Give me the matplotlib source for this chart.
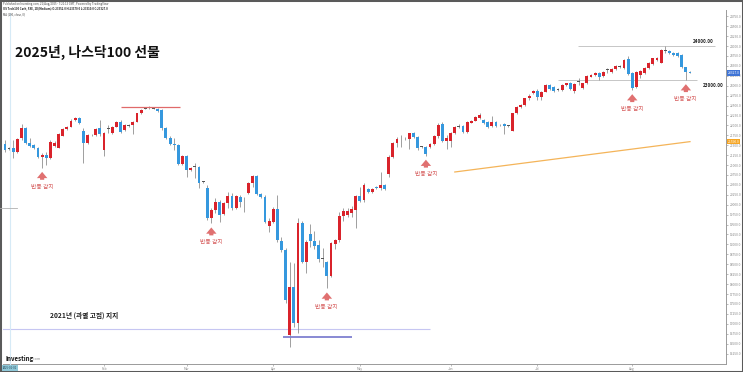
import matplotlib
matplotlib.use('Agg')
import matplotlib.pyplot as plt
from matplotlib.lines import Line2D
from matplotlib.patches import Rectangle
import numpy as np

plt.rcParams['font.family'] = ['Noto Sans CJK KR', 'DejaVu Sans']

# ---------------- data (daily candles, NQ futures 2025) ----------------
opens = [21523, 21430, 21422, 21336, 21674, 21926, 21563, 21505, 21422, 21203,
         21253, 21170, 21480, 21437, 21739, 21901, 21966, 22135, 22178, 21858,
         21548, 21757, 21745, 21926, 21379, 21910, 21800, 21966, 22077, 21883,
         22000, 22009, 22092, 22304, 22420, 22440, 22430, 22412, 22387, 21926,
         21689, 21530, 21510, 21019, 21228, 20875, 20950, 20960, 20580, 20414,
         19658, 19867, 20076, 19767, 20035, 20220, 19910, 20203, 20110, 20303,
         20555, 20724, 20270, 20187, 19464, 19572, 19884, 19094, 18859, 16717,
         17919, 17027, 19547, 18564, 19262, 19094, 18985, 18650, 18564, 18203,
         19010, 19111, 19716, 19741, 19799, 19867, 20220, 20119, 20388, 20330,
         20439, 20414, 20497, 20774, 21195, 21563, 21670, 21680, 21649, 21800,
         21699, 21450, 21462, 21462, 21530, 21731, 22034, 21613, 21613, 21800,
         21970, 21985, 21840, 22067, 22117, 22190, 22135, 22092, 21985, 22092,
         22010, 22034, 21990, 21865, 22304, 22470, 22513, 22681, 22807, 22874,
         22722, 22848, 23017, 22960, 22900, 22891, 23017, 23059, 22866, 23090,
         22941, 23059, 23230, 23269, 23327, 23252, 23390, 23352, 23420, 23480,
         23438, 23665, 23311, 22974, 23260, 23330, 23438, 23547, 23647, 23580,
         23885, 23882, 23832, 23815, 23773, 23463, 23352]
highs = [21631, 21460, 21631, 21689, 22027, 21966, 21674, 21530, 21462, 21296,
         21336, 21620, 21600, 21800, 21930, 21990, 22150, 22200, 22200, 21926,
         21790, 21790, 21930, 22135, 21840, 22010, 21990, 22100, 22135, 22030,
         22030, 22110, 22320, 22410, 22460, 22480, 22470, 22440, 22412, 21950,
         21720, 21674, 21540, 21250, 21260, 20960, 21044, 20975, 20600, 20497,
         19909, 20161, 20119, 20080, 20328, 20287, 20250, 20245, 20203, 20580,
         20749, 20749, 20290, 20245, 19658, 19935, 20245, 19195, 18900, 18564,
         18524, 19658, 19597, 19111, 19514, 19346, 19111, 18900, 18590, 19050,
         19130, 19824, 19910, 19910, 19967, 20245, 20439, 20555, 20420, 20430,
         20470, 20825, 20520, 21253, 21590, 21699, 21757, 21700, 21817, 21830,
         21730, 21490, 21480, 21550, 21750, 22052, 22092, 21757, 21840, 21990,
         22040, 22010, 22117, 22140, 22240, 22320, 22160, 22110, 22235, 22117,
         22030, 22050, 22010, 22320, 22490, 22530, 22700, 22790, 22890, 22908,
         22874, 23040, 23040, 22990, 22930, 23040, 23080, 23090, 23060, 23185,
         23080, 23270, 23290, 23350, 23350, 23370, 23440, 23440, 23520, 23510,
         23670, 23748, 23352, 23360, 23400, 23460, 23590, 23710, 23730, 23920,
         24000, 23910, 23850, 23840, 23800, 23480, 23370]
lows = [21336, 21390, 21170, 21296, 21631, 21523, 21462, 21400, 21170, 20933,
        21001, 21140, 21450, 21420, 21720, 21880, 21950, 22110, 22030, 21044,
        21520, 21720, 21720, 21735, 21236, 21810, 21780, 21950, 21800, 21860,
        21970, 21775, 22080, 22290, 22400, 22410, 22400, 22340, 21880, 21660,
        21500, 21379, 20990, 20990, 20706, 20850, 20666, 20414, 20540, 19615,
        19532, 19783, 19572, 19740, 19910, 19867, 19890, 19951, 19824, 20280,
        20454, 20245, 20160, 19532, 19320, 19532, 19069, 18817, 17515, 16422,
        16926, 16759, 18524, 18272, 18942, 18877, 18564, 18438, 17894, 18180,
        18877, 19068, 19597, 19690, 19698, 19406, 20076, 20076, 20300, 20300,
        20390, 20371, 20360, 20706, 21170, 21462, 21462, 21640, 21397, 21680,
        21379, 21420, 21240, 21440, 21510, 21674, 21588, 21397, 21462, 21780,
        21930, 21820, 21800, 22050, 22100, 22170, 22040, 21930, 21950, 21960,
        21980, 21783, 21960, 21850, 22290, 22450, 22500, 22640, 22790, 22639,
        22639, 22830, 22890, 22850, 22870, 22870, 23000, 22890, 22808, 23017,
        22920, 23040, 23210, 23250, 23143, 23230, 23320, 23330, 23400, 23450,
        23420, 23269, 22891, 22950, 23200, 23300, 23420, 23520, 23630, 23560,
        23830, 23810, 23750, 23720, 23440, 23143, 23310]
closes = [21379, 21415, 21336, 21649, 21926, 21563, 21480, 21422, 21210, 21253,
          21170, 21588, 21560, 21775, 21901, 21966, 22117, 22178, 22052, 21548,
          21757, 21745, 21901, 21775, 21800, 21926, 21966, 22077, 21825, 22009,
          21995, 22092, 22304, 22387, 22430, 22445, 22420, 22362, 21926, 21689,
          21523, 21510, 21019, 21228, 20875, 20933, 20960, 20555, 20575, 19658,
          19867, 20076, 19741, 20051, 20220, 19910, 20220, 20076, 20115, 20555,
          20724, 20270, 20187, 19572, 19597, 19884, 19111, 18859, 17599, 17919,
          17027, 19547, 18564, 19068, 19094, 18960, 18625, 18640, 18203, 19028,
          19111, 19716, 19849, 19849, 19884, 20220, 20101, 20497, 20328, 20400,
          20414, 20497, 20388, 21195, 21563, 21649, 21680, 21670, 21800, 21699,
          21422, 21460, 21271, 21530, 21731, 22009, 21613, 21674, 21800, 21966,
          21985, 21840, 22092, 22117, 22218, 22270, 22067, 21951, 22092, 21985,
          22000, 21985, 21985, 22304, 22470, 22513, 22681, 22740, 22874, 22722,
          22848, 23017, 22909, 22874, 22895, 23017, 23059, 22909, 23035, 23100,
          23059, 23252, 23269, 23327, 23227, 23352, 23400, 23420, 23496, 23475,
          23647, 23294, 22934, 23337, 23377, 23438, 23564, 23690, 23705, 23899,
          23895, 23832, 23773, 23748, 23463, 23352, 23327]

month_idx = [24, 44, 65, 86, 108, 129, 152]
month_labels = ['Feb', 'Mar', 'Apr', 'May', 'Jun', 'Jul', 'Aug']

rebound_idx = [9, 50, 78, 102, 152, 165]
rebound_text = '반등 감지'

feb_high = 22470            # red resistance line
feb_high_span = [28, 42.5]
april_low = 16667           # purple support line
april_low_span = [67.4, 84.1]
high_2021 = 16860           # 2021 overheated-peak support
high_2021_span = [-1, 103]
level_24000 = 24000
level_24000_span = [138.9, 172]
level_23000 = 23150
level_23000_span = [134.1, 167.7]
ma_idx = [109, 166]          # 200-day MA segment shown
ma_vals = [20825, 21590]

# ---------------- figure ----------------
W, H = 743, 372
fig = plt.figure(figsize=(W / 100, H / 100), dpi=100)
fig.patch.set_facecolor('white')
ax_l, ax_r, ax_t, ax_b = 3, 726, 10, 364
ax = fig.add_axes([ax_l / W, 1 - ax_b / H, (ax_r - ax_l) / W, (ax_b - ax_t) / H])
ax.set_facecolor('white')

n = len(closes)
x = np.arange(n)
px_per_bar = (690 - 5) / 166
ax.set_xlim((ax_l - 5) / px_per_bar, (ax_r - 5) / px_per_bar)
pts_per_px = 25.2
ytop_px = 46
ax.set_ylim(24000 - (ax_b - ytop_px) * pts_per_px, 24000 + (ytop_px - ax_t) * pts_per_px)

o = np.array(opens, float); c = np.array(closes, float)
hi = np.array(highs, float); lo = np.array(lows, float)
RED, BLUE, DOJI = '#d9232b', '#3598de', '#555555'
cols = np.where(c >= o, RED, BLUE).astype(object)
cols[np.abs(c - o) < 20] = DOJI
ax.vlines(x, lo, hi, color='#8f8f8f', lw=0.6, zorder=2)
body_h = np.maximum(np.abs(c - o), 18)
ax.bar(x, body_h, bottom=np.minimum(o, c), width=0.7, color=list(cols),
       linewidth=0, zorder=3)

# horizontal levels
ax.hlines(high_2021, *high_2021_span, color='#c6c6f2', lw=0.8, zorder=1)
ax.hlines(feb_high, *feb_high_span, color='#e06a6a', lw=0.9, zorder=4)
ax.hlines(april_low, *april_low_span, color='#7f80d0', lw=1.3, zorder=4)
ax.hlines(level_24000, *level_24000_span, color='#bdbdbd', lw=0.6, zorder=1)
ax.hlines(level_23000, *level_23000_span, color='#bdbdbd', lw=0.6, zorder=1)
ax.text(level_24000_span[1] - 0.3, level_24000 + 60, '24000.00', fontsize=3.3,
        fontweight='bold', ha='right', va='bottom', color='#222222')
ax.text(level_23000_span[1] + 1.5, level_23000 - 90, '23000.00', fontsize=3.3,
        fontweight='bold', ha='left', va='top', color='#222222')

# 200-day moving average segment
ax.plot(ma_idx, ma_vals, color='#f4b459', lw=0.9, zorder=1)

# rebound annotations
for i in rebound_idx:
    ax.annotate(rebound_text, xy=(i, lows[i]), xytext=(0, -14),
                textcoords='offset points', ha='center', va='center',
                fontsize=4.2, color='#d65c5c', zorder=6,
                arrowprops=dict(arrowstyle='simple,head_length=0.6,head_width=1.0,tail_width=0.4',
                                color='#e07070', shrinkA=1.5, shrinkB=3,
                                mutation_scale=7.5, lw=0))

# axes styling
for s in ['top', 'left']:
    ax.spines[s].set_visible(False)
ax.spines['right'].set_color('#9a9a9a'); ax.spines['right'].set_linewidth(0.7)
ax.spines['bottom'].set_color('#9a9a9a'); ax.spines['bottom'].set_linewidth(0.7)
ax.yaxis.tick_right()
yt = np.arange(16250, 24751, 250)
ax.set_yticks(yt)
ax.set_yticklabels([f'{v:.1f}' for v in yt], fontsize=2.3, color='#666666')
ax.tick_params(axis='y', length=1.5, width=0.4, pad=1.5, colors='#888888')
ax.set_xticks(month_idx)
ax.set_xticklabels(month_labels, fontsize=2.3, color='#666666')
ax.tick_params(axis='x', length=1.5, width=0.4, pad=1, colors='#888888')
ax.grid(False)

# price labels on the right scale
ax.annotate(f'{closes[-1]:.1f}', xy=(1, closes[-1]), xycoords=('axes fraction', 'data'),
            xytext=(1.2, 0), textcoords='offset points', ha='left', va='center',
            fontsize=2.4, color='white', zorder=7, annotation_clip=False,
            bbox=dict(boxstyle='square,pad=0.25', fc='#3f74d6', ec='none'))
ax.annotate(f'{ma_vals[-1]:.1f}', xy=(1, ma_vals[-1]), xycoords=('axes fraction', 'data'),
            xytext=(1.2, 0), textcoords='offset points', ha='left', va='center',
            fontsize=2.4, color='white', zorder=7, annotation_clip=False,
            bbox=dict(boxstyle='square,pad=0.25', fc='#f5a524', ec='none'))

# light vertical guide and small stub
fig.add_artist(Line2D([10 / W, 10 / W], [1 - 13 / H, 1 - ax_b / H], color='#d6eaf6', lw=0.8))
fig.add_artist(Line2D([0 / W, 17 / W], [1 - 208 / H, 1 - 208 / H], color='#b0b0b0', lw=0.6))

# texts
fig.text(15 / W, 1 - 52 / H, '2025년, 나스닥100 선물', fontsize=10, fontweight='bold',
         va='center', ha='left', color='#111111')
fig.text(50 / W, 1 - 315 / H, '2021년 (과열 고점) 지지', fontsize=4.8, fontweight='bold',
         va='center', ha='left', color='#222222')
fig.text(3 / W, 1 - 3.5 / H, 'Published on Investing.com, 21/Aug/2025 - 7:21:13 GMT, Powered by TradingView',
         fontsize=2.0, va='center', ha='left', color='#444444')
fig.text(3 / W, 1 - 8 / H, 'US Tech100 Cash, FXE, 1D(Medium) O:23352.0 H:23370.0 L:23310.0 C:23327.0',
         fontsize=2.0, fontweight='bold', va='center', ha='left', color='#222222')
fig.text(3 / W, 1 - 14.5 / H, 'MA (200, close, 0)', fontsize=2.0, va='center', ha='left', color='#444444')
fig.text(6 / W, 1 - 358 / H, 'Investing', fontsize=4.4, fontweight='bold', va='center', ha='left',
         color='#111111')
fig.text(33 / W, 1 - 358.5 / H, '.com', fontsize=2.6, va='center', ha='left', color='#888888')
fig.text(3 / W, 1 - 368 / H, '2025-01-01', fontsize=2.0, va='center', ha='left', color='#224455',
         bbox=dict(boxstyle='square,pad=0.2', fc='#8fc8d8', ec='none'))

# outer frame
fig.add_artist(Rectangle((0, 0), 1, 1, transform=fig.transFigure, fill=False,
                         ec='#5a5a5a', lw=2.2))

fig.savefig('out.png', dpi=100, facecolor='white')
